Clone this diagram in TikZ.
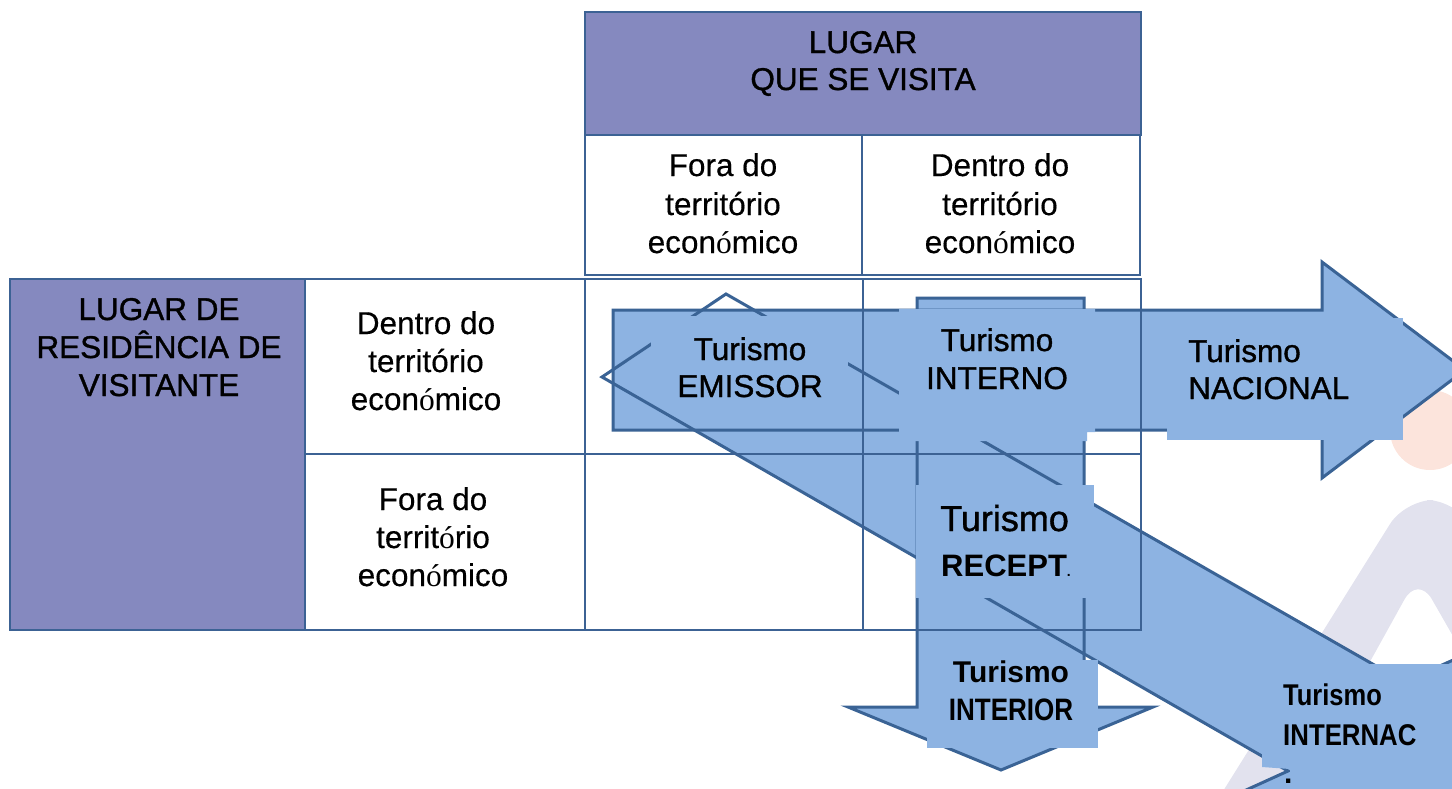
\documentclass[tikz,border=0pt]{standalone}
\usepackage{fontspec}
\usepackage{graphicx}
\setmainfont{Liberation Sans}[UprightFeatures={FakeBold=0.4}]
\newfontfamily\medfont{Liberation Sans}[FakeBold=1.1]
\newfontfamily\serifo{Liberation Serif}
\newcommand\so{{\serifo ó}}
\newcommand\fsz[1]{\fontsize{#1}{#1}\selectfont}
\newcommand\sx[2]{\scalebox{#1}[1]{#2}}
\definecolor{hdr}{HTML}{8589BF}
\definecolor{gridc}{HTML}{3C6294}
\definecolor{afill}{HTML}{8DB3E2}
\definecolor{aline}{HTML}{3A6395}
\definecolor{peach}{HTML}{FCE4DC}
\definecolor{lav}{HTML}{E2E2EE}
\begin{document}
\begin{tikzpicture}[x=1pt,y=-1pt,
  gridline/.style={draw=gridc,line width=2.2pt},
  arrowfill/.style={fill=afill},
  arrowline/.style={draw=aline,line width=3pt,line join=miter},
  labelbox/.style={fill=afill},
  txt/.style={inner sep=0pt,anchor=base,font=\fsz{31.5}},
  mtxt/.style={inner sep=0pt,anchor=base,font=\medfont\fsz{31.5}},
  ltxt/.style={inner sep=0pt,anchor=base west,font=\medfont\fsz{31.5}}]
\useasboundingbox (0,0) rectangle (1452,788);
\clip (0,0) rectangle (1452,788);
% faint watermark
\fill[peach] (1430,430) circle (40);
\fill[lav,even odd rule,rounded corners=28pt] (1155,900) -- (1405,500) -- (1455,500) -- (1710,900) -- cycle
  (1418,575) -- (1238,900) -- (1604,900) -- cycle;
% table fills
\fill[hdr] (585,12) rectangle (1141,135);
\fill[white] (585,135) rectangle (1140,275);
\fill[hdr] (10,279) rectangle (305,630);
\fill[white] (305,279) rectangle (1141,630);
% arrow fills
\begin{scope}
\clip (613,310) rectangle (1470,900);
\path[arrowfill] (726,294) -- (1404,682) -- (1480,648) -- (1580,900) -- (1180,820) -- (1288,771) -- (602,377) -- cycle;
\end{scope}
\path[arrowfill] (613,310) -- (1322,310) -- (1322,262) -- (1465,370) -- (1322,478) -- (1322,430) -- (613,430) -- cycle;
\path[arrowfill] (917,298) -- (1084,298) -- (1084,707) -- (1153,707) -- (1001,770) -- (848,707) -- (917,707) -- cycle;
% arrow outlines
\draw[arrowline] (726,294) -- (1404,682) -- (1480,648) -- (1580,900) -- (1180,820) -- (1288,771) -- (602,377) -- cycle;
\draw[arrowline] (613,310) -- (1322,310) -- (1322,262) -- (1465,370) -- (1322,478) -- (1322,430) -- (613,430) -- cycle;
\draw[arrowline] (917,298) -- (1084,298) -- (1084,707) -- (1153,707) -- (1001,770) -- (848,707) -- (917,707) -- cycle;
% table grid
\draw[gridline] (585,12) rectangle (1141,135);
\draw[gridline] (585,135) rectangle (862,275);
\draw[gridline] (862,135) rectangle (1140,275);
\draw[gridline] (10,279) rectangle (1141,630);
\draw[gridline] (305,279) -- (305,630);
\draw[gridline] (585,279) -- (585,630);
\draw[gridline] (863,279) -- (863,630);
\draw[gridline] (305,454) -- (1141,454);
% label boxes
\fill[labelbox] (651,316) rectangle (848,402);
\fill[labelbox] (899,309) -- (1095,309) -- (1095,432) -- (1087,432) -- (1087,441) -- (899,441) -- cycle;
\fill[labelbox] (1167,318) rectangle (1403,440);
\fill[labelbox] (916,485) rectangle (1094,598);
\fill[labelbox] (927,660) rectangle (1098,748);
\fill[labelbox] (1262,664) -- (1460,664) -- (1460,800) -- (1290,800) -- (1290,769) -- (1262,767) -- cycle;
% header texts
\node[mtxt] (hA1) at (863,53) {LUGAR};
\node[mtxt] (hA2) at (863,90) {QUE SE VISITA};
\node[mtxt] (hB1) at (159,320) {LUGAR DE};
\node[mtxt] (hB2) at (159,358) {RESIDÊNCIA DE};
\node[mtxt] (hB3) at (159,396) {VISITANTE};
\node[txt] (c11) at (723,176) {Fora do};
\node[txt] (c12) at (723,215) {território};
\node[txt] (c13) at (723,253) {econ\so mico};
\node[txt] (c21) at (1000,176) {Dentro do};
\node[txt] (c22) at (1000,215) {território};
\node[txt] (c23) at (1000,253) {econ\so mico};
\node[txt] (r11) at (426,334) {Dentro do};
\node[txt] (r12) at (426,372) {território};
\node[txt] (r13) at (426,410) {econ\so mico};
\node[txt] (r21) at (433,510) {Fora do};
\node[txt] (r22) at (433,548) {territ\so rio};
\node[txt] (r23) at (433,586) {econ\so mico};
% arrow labels
\node[mtxt] (e1) at (750,360) {Turismo};
\node[mtxt] (e2) at (750,397) {EMISSOR};
\node[mtxt] (i1) at (997,351) {Turismo};
\node[mtxt] (i2) at (997,389) {INTERNO};
\node[ltxt] (n1) at (1188,362) {Turismo};
\node[ltxt] (n2) at (1188,399) {NACIONAL};
\node[ltxt,font=\medfont\fsz{36}] (rc1) at (940,531) {Turismo};
\node[ltxt,font=\rmfamily\fsz{31}\bfseries] (rc2) at (941,576) {RECEPT\fsz{14}.};
\node[txt,font=\fsz{30}\bfseries] (ir1) at (1011,682) {Turismo};
\node[txt,font=\fsz{31}\bfseries] (ir2) at (1011,720) {\sx{0.84}{INTERIOR}};
\node[ltxt,font=\rmfamily\fsz{30}\bfseries] (in1) at (1283,705) {\sx{0.85}{Turismo}};
\node[ltxt,font=\rmfamily\fsz{30}\bfseries] (in2) at (1283,745) {\sx{0.86}{INTERNAC}};
\node[ltxt,font=\rmfamily\fsz{30}\bfseries] (in3) at (1284,783) {.};
\end{tikzpicture}
\end{document}
